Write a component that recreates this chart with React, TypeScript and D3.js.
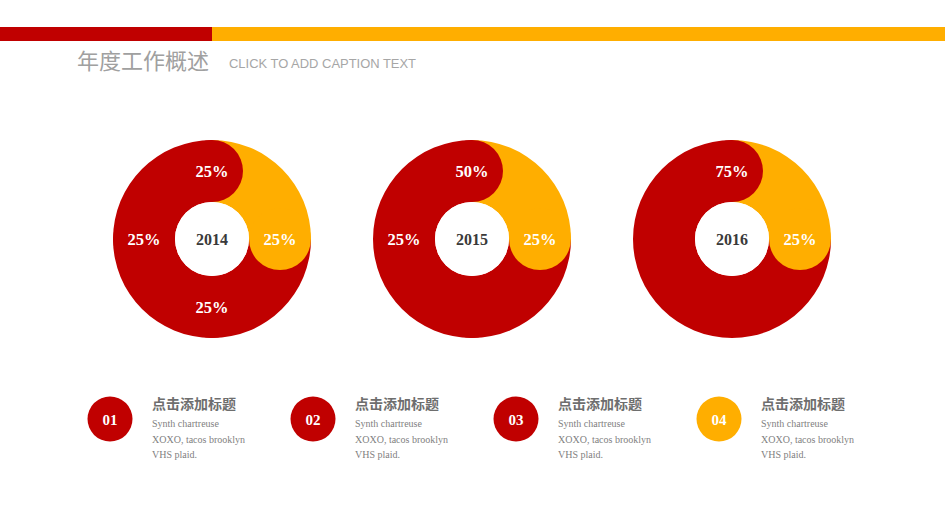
import React from "react";
import * as d3 from "d3";

const years = ["2014", "2015", "2016"];
// slice values in percent, clockwise from 12 o'clock (first slice highlighted)
const sliceValues = [
  [25, 25, 25, 25],
  [25, 25, 50],
  [25, 75],
];
const labelTexts = [
  ["25%", "25%", "25%", "25%"],
  ["25%", "25%", "50%"],
  ["25%", "75%"],
];
// cumulative percent position at which each label sits
const labelAt = [
  [25, 50, 75, 100],
  [25, 75, 100],
  [25, 100],
];

const itemNumbers = ["01", "02", "03", "04"];
const itemTitles = ["点击添加标题", "点击添加标题", "点击添加标题", "点击添加标题"];
const itemBody = ["Synth chartreuse", "XOXO, tacos brooklyn", "VHS plaid."];

const RED = "#C00000";
const YELLOW = "#FFAE00";
const SERIF = "'Times New Roman', 'Liberation Serif', serif";
const CJK = "'Microsoft YaHei', 'Noto Sans CJK SC', sans-serif";
const SANS = "Arial, 'Liberation Sans', sans-serif";

const W = 945;
const H = 531;

export default function App() {
  const outerR = 99;
  const innerR = 37;
  const midR = (outerR + innerR) / 2;
  const capR = (outerR - innerR) / 2;
  const angle = d3.scaleLinear().domain([0, 100]).range([0, 2 * Math.PI]);
  const cx = d3.scalePoint<string>().domain(years).range([212, 732]);
  const cy = 239;
  const arcGen = d3.arc<any>().innerRadius(innerR).outerRadius(outerR);
  const pt = (a: number, r: number) => [r * Math.sin(a), -r * Math.cos(a)];

  const itemX = d3.scalePoint<string>().domain(itemNumbers).range([110, 719]);

  return (
    <svg width={W} height={H} style={{ position: "absolute", left: 0, top: 0, background: "#fff" }}>
      <rect x={0} y={0} width={W} height={H} fill="#fff" />
      {/* header bars */}
      <rect x={0} y={27} width={212} height={14} fill={RED} />
      <rect x={212} y={27} width={W - 212} height={14} fill={YELLOW} />
      <text x={77} y={69} fontFamily={CJK} fontSize={22} fill="#A0A0A0">年度工作概述</text>
      <text x={229} y={68} fontFamily={SANS} fontSize={13.5} fill="#A6A6A6" textLength={187} lengthAdjust="spacingAndGlyphs">CLICK TO ADD CAPTION TEXT</text>

      {years.map((y, yi) => {
        const vals = sliceValues[yi];
        const cum = d3.cumsum(vals);
        const slices = vals.map((v, i) => ({
          start: i === 0 ? 0 : cum[i - 1],
          end: cum[i],
          color: i === 0 ? YELLOW : RED,
        }));
        const x0 = cx(y) as number;
        return (
          <g key={y} transform={`translate(${x0},${cy})`}>
            {slices.map((s, i) => (
              <path
                key={"a" + i}
                d={arcGen({ startAngle: angle(s.start), endAngle: angle(s.end) }) as string}
                fill={s.color}
              />
            ))}
            {slices.map((s, i) => {
              const [px, py] = pt(angle(s.end), midR);
              return <circle key={"c" + i} cx={px} cy={py} r={capR} fill={s.color} />;
            })}
            <circle r={innerR} fill="#fff" />
            <text
              textAnchor="middle"
              dominantBaseline="central"
              fontFamily={SERIF}
              fontWeight="bold"
              fontSize={16}
              fill="#3A3A3A"
            >
              {y}
            </text>
            {labelTexts[yi].map((t, i) => {
              const [px, py] = pt(angle(labelAt[yi][i]), midR);
              return (
                <text
                  key={"l" + i}
                  x={px}
                  y={py}
                  textAnchor="middle"
                  dominantBaseline="central"
                  fontFamily={SERIF}
                  fontWeight="bold"
                  fontSize={16.5}
                  fill="#fff"
                >
                  {t}
                </text>
              );
            })}
          </g>
        );
      })}

      {itemNumbers.map((n, i) => {
        const x = itemX(n) as number;
        return (
          <g key={n}>
            <circle cx={x} cy={419} r={22.5} fill={i === 3 ? YELLOW : RED} />
            <text
              x={x}
              y={420}
              textAnchor="middle"
              dominantBaseline="central"
              fontFamily={SERIF}
              fontWeight="bold"
              fontSize={15}
              fill="#fff"
            >
              {n}
            </text>
            <text x={x + 42} y={409} fontFamily={CJK} fontWeight="bold" fontSize={14} fill="#6E6E6E">
              {itemTitles[i]}
            </text>
            {itemBody.map((line, li) => (
              <text
                key={li}
                x={x + 42}
                y={427 + li * 15.5}
                fontFamily={SERIF}
                fontSize={10}
                fill="#7F7F7F"
              >
                {line}
              </text>
            ))}
          </g>
        );
      })}
    </svg>
  );
}
